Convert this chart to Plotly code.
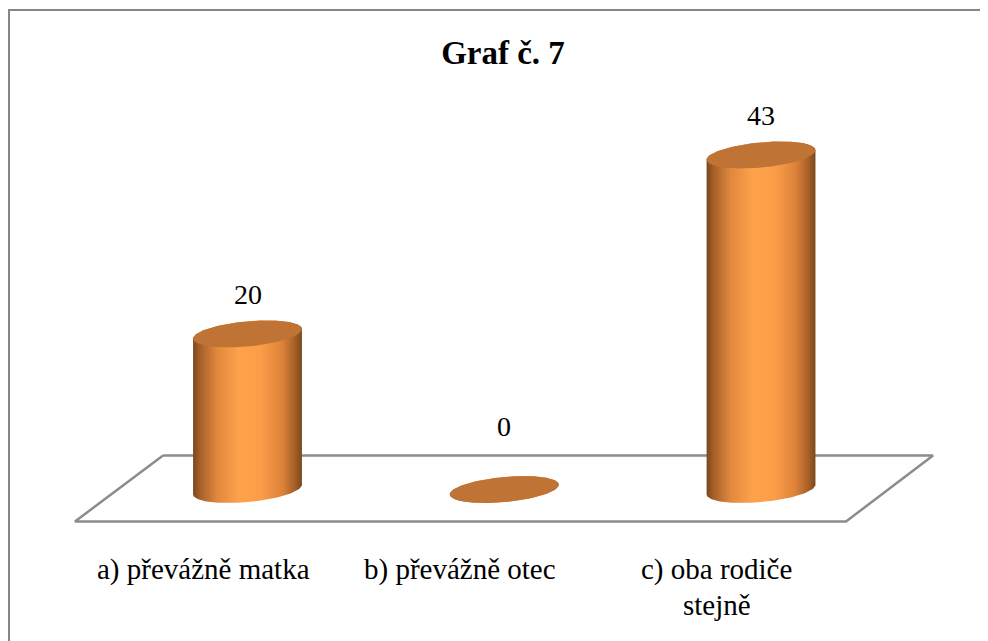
import numpy as np
import plotly.graph_objects as go

# ---- data ----
title_text = "Graf č. 7"
categories = ["a) převážně matka", "b) převážně otec", "c) oba rodiče<br>stejně"]
values = [20, 0, 43]

# ---- style / geometry (axis units) ----
FONT = "Liberation Serif"
BODY_SCALE = [[0.0, "#7a481d"], [0.07, "#a8612a"], [0.22, "#e0883d"], [0.42, "#fda14b"],
              [0.62, "#fc9e49"], [0.82, "#dc8239"], [0.93, "#a96129"], [1.0, "#7a481d"]]
TOP_COLOR = "#bf7334"
FLOOR_COLOR = "#8c8c8c"
HALF_W = 0.212      # cylinder radius in category units
ELL_B = 1.62        # ellipse half-height in value units
ELL_S = 0.62        # ellipse tilt in value units
X_RANGE = [-0.9328, 2.884]
Y_RANGE = [-19.47, 61.89]
FLOOR_X = [-0.329, 2.670, 2.331, -0.672, -0.329]
FLOOR_Y = [4.37, 4.37, -4.11, -4.11, 4.37]
W, H = 980, 633

fig = go.Figure()

# floor
fig.add_trace(go.Scatter(x=FLOOR_X, y=FLOOR_Y, mode="lines",
                         line=dict(color=FLOOR_COLOR, width=2.5),
                         hoverinfo="skip", showlegend=False))


def ellipse(cx, cy, t):
    return cx + HALF_W * np.cos(t), cy + ELL_B * np.sin(t) + ELL_S * np.cos(t)


for i, v in enumerate(values):
    tf = np.linspace(np.pi, 2 * np.pi, 80)
    tb = np.linspace(0, np.pi, 80)
    bx, by = ellipse(i, 0, tf)
    tx, ty = ellipse(i, v, tb)
    xs = np.concatenate([bx, tx, bx[:1]])
    ys = np.concatenate([by, ty, by[:1]])
    fig.add_trace(go.Scatter(x=xs, y=ys, mode="lines", fill="toself",
                             line=dict(width=0),
                             fillgradient=dict(type="horizontal", colorscale=BODY_SCALE),
                             hoverinfo="skip", showlegend=False))
    ta = np.linspace(0, 2 * np.pi, 160)
    ex, ey = ellipse(i, v, ta)
    fig.add_trace(go.Scatter(x=ex, y=ey, mode="lines", fill="toself",
                             fillcolor=TOP_COLOR, line=dict(width=0),
                             hoverinfo="skip", showlegend=False))
    # value label
    fig.add_annotation(x=i, y=max(v, 3) + 5.1, text=str(v), showarrow=False,
                       font=dict(family=FONT, size=28, color="#000000"),
                       xanchor="center", yanchor="middle")
    # category label lines
    for k, line in enumerate(categories[i].split("<br>")):
        fig.add_annotation(x=i - 0.172, y=-10.3 - 4.6 * k, text=line, showarrow=False,
                           font=dict(family=FONT, size=29, color="#000000"),
                           xanchor="center", yanchor="middle")

fig.update_layout(
    width=W, height=H,
    font=dict(family=FONT),
    margin=dict(l=0, r=0, t=0, b=0),
    paper_bgcolor="white", plot_bgcolor="white",
    xaxis=dict(range=X_RANGE, visible=False, fixedrange=True),
    yaxis=dict(range=Y_RANGE, visible=False, fixedrange=True),
    title=dict(text="<b>" + title_text + "</b>", x=495 / W, xanchor="center",
               y=1 - 44 / H, yanchor="middle",
               font=dict(family=FONT, size=33, color="#000000")),
    shapes=[dict(type="rect", xref="paper", yref="paper",
                 x0=1 / W, x1=1.05, y0=-0.05, y1=1 - 2 / H,
                 line=dict(color="#868686", width=2), layer="below")],
)

fig.write_html("out.html", config={"displayModeBar": False})
